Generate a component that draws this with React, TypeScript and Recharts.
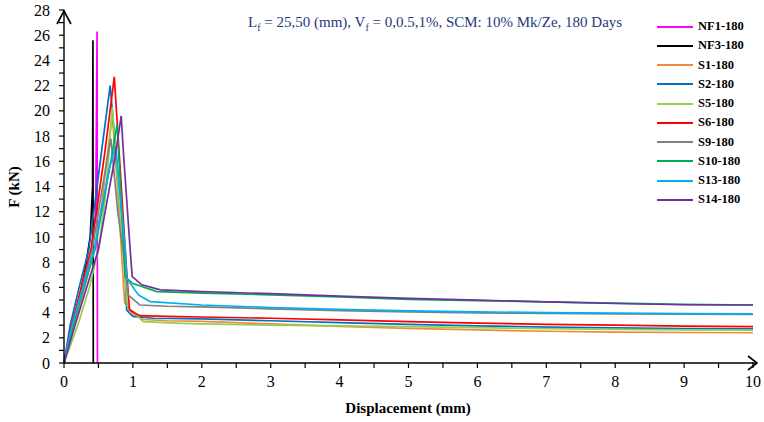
import { LineChart, Line, XAxis, YAxis } from 'recharts';

// displacement (mm) / force (kN) pairs per specimen
const nf1Disp = [0, 0.12, 0.27, 0.4, 0.46, 0.48, 0.485];
const nf1Force = [0, 3, 6, 9, 12, 26.3, 0];
const nf3Disp = [0, 0.1, 0.2, 0.3, 0.38, 0.415, 0.42, 0.425];
const nf3Force = [0, 2.2, 4.5, 7.2, 10, 14, 25.6, 0];

const s1Disp = [0, 0.15, 0.3, 0.44, 0.55, 0.63, 0.7, 0.8, 0.86, 0.88, 1.0, 1.15, 1.5, 2, 3, 4, 5, 6, 7, 8, 9, 10];
const s1Force = [0, 3, 6, 9, 12.7, 16.5, 19.8, 12, 6.5, 4.8, 3.9, 3.45, 3.35, 3.3, 3.1, 2.9, 2.75, 2.62, 2.52, 2.45, 2.42, 2.4];
const s2Disp = [0, 0.09, 0.22, 0.36, 0.45, 0.55, 0.67, 0.78, 0.88, 0.91, 1.0, 1.3, 2, 3, 4, 5, 6, 7, 8, 9, 10];
const s2Force = [0, 3, 6, 9, 12.7, 17, 22, 15, 8, 4.2, 3.7, 3.55, 3.5, 3.35, 3.2, 3.07, 2.95, 2.85, 2.78, 2.72, 2.7];
const s5Disp = [0, 0.2, 0.37, 0.5, 0.59, 0.65, 0.7, 0.8, 0.87, 0.92, 1.15, 1.7, 2, 3, 4, 5, 6, 7, 8, 9, 10];
const s5Force = [0, 3, 6, 9, 12.7, 16.5, 20.3, 13, 8, 4.5, 3.28, 3.15, 3.1, 3.0, 2.95, 2.88, 2.8, 2.72, 2.66, 2.62, 2.6];
const s6Disp = [0, 0.11, 0.25, 0.39, 0.49, 0.6, 0.73, 0.82, 0.9, 0.95, 1.1, 1.5, 2, 3, 4, 5, 6, 7, 8, 9, 10];
const s6Force = [0, 3, 6, 9, 12.7, 17, 22.7, 15, 8, 4.2, 3.75, 3.7, 3.65, 3.55, 3.42, 3.28, 3.17, 3.07, 3.0, 2.93, 2.88];
const s9Disp = [0, 0.12, 0.27, 0.41, 0.52, 0.62, 0.68, 0.78, 0.88, 0.93, 1.1, 1.5, 2, 3, 4, 5, 6, 7, 8, 9, 10];
const s9Force = [0, 3, 6, 9, 12.7, 16, 17.8, 12, 8, 5.4, 4.6, 4.5, 4.45, 4.3, 4.15, 4.05, 3.98, 3.93, 3.9, 3.87, 3.85];
const s10Disp = [0, 0.13, 0.29, 0.45, 0.57, 0.68, 0.77, 0.82, 0.87, 0.885, 1.0, 1.35, 2, 3, 4, 5, 6, 7, 8, 9, 10];
const s10Force = [0, 3, 6, 9, 12.7, 16, 18.9, 14, 9, 6.85, 6.3, 5.66, 5.55, 5.4, 5.25, 5.05, 4.95, 4.85, 4.75, 4.65, 4.6];
const s13Disp = [0, 0.12, 0.28, 0.44, 0.56, 0.66, 0.75, 0.82, 0.89, 0.91, 1.08, 1.25, 2, 3, 4, 5, 6, 7, 8, 9, 10];
const s13Force = [0, 3, 6, 9, 12.7, 15.5, 17.2, 13, 9, 6.7, 5.4, 4.87, 4.6, 4.4, 4.25, 4.13, 4.05, 4.0, 3.95, 3.92, 3.9];
const s14Disp = [0, 0.16, 0.33, 0.5, 0.62, 0.74, 0.83, 0.86, 0.96, 0.99, 1.13, 1.4, 2, 3, 4, 5, 6, 7, 8, 9, 10];
const s14Force = [0, 3, 6, 9, 12.7, 16.3, 19.6, 16.9, 9, 6.85, 6.2, 5.8, 5.66, 5.5, 5.3, 5.13, 4.98, 4.85, 4.72, 4.62, 4.6];

const seriesNames = ['NF1-180', 'NF3-180', 'S1-180', 'S2-180', 'S5-180', 'S6-180', 'S9-180', 'S10-180', 'S13-180', 'S14-180'];
const seriesColors = ['#FF00FF', '#000000', '#F28A3C', '#0070C0', '#92D050', '#FF0000', '#808080', '#00B050', '#00B0F0', '#7030A0'];
const seriesDisp = [nf1Disp, nf3Disp, s1Disp, s2Disp, s5Disp, s6Disp, s9Disp, s10Disp, s13Disp, s14Disp];
const seriesForce = [nf1Force, nf3Force, s1Force, s2Force, s5Force, s6Force, s9Force, s10Force, s13Force, s14Force];

const xTicks = Array.from({ length: 21 }, (_, i) => i * 0.5);
const yTicks = Array.from({ length: 29 }, (_, i) => i);

const FONT = '"Liberation Serif", "Times New Roman", serif';

const series = seriesNames.map((name, i) => ({
  name,
  color: seriesColors[i],
  data: seriesDisp[i].map((d, j) => ({ d, f: seriesForce[i][j] })),
}));

const YTick = (props: any) => {
  const { x, y, payload } = props;
  if (payload.value % 2 !== 0) return null;
  return (
    <text x={x - 7} y={y} dy="0.35em" textAnchor="end" style={{ fontFamily: FONT, fontSize: 16 }} fill="#000">
      {payload.value}
    </text>
  );
};

const XTick = (props: any) => {
  const { x, y, payload } = props;
  if (payload.value % 1 !== 0) return null;
  return (
    <text x={x} y={y + 17} textAnchor="middle" style={{ fontFamily: FONT, fontSize: 16 }} fill="#000">
      {payload.value}
    </text>
  );
};

export default function App() {
  return (
    <div style={{ position: 'absolute', left: 0, top: 0, width: 764, height: 422, background: '#fff' }}>
      <LineChart width={764} height={422} margin={{ top: 10, right: 11, bottom: 14, left: 24 }}>
        <XAxis
          dataKey="d"
          type="number"
          domain={[0, 10]}
          ticks={xTicks}
          interval={0}
          tick={<XTick />}
          tickSize={5}
          height={45}
          allowDuplicatedCategory={false}
          axisLine={{ stroke: '#000', strokeWidth: 1.4 }}
          tickLine={{ stroke: '#000', strokeWidth: 1.2 }}
        />
        <YAxis
          type="number"
          domain={[0, 28]}
          ticks={yTicks}
          interval={0}
          tick={<YTick />}
          tickSize={5}
          width={40}
          axisLine={{ stroke: '#000', strokeWidth: 1.4 }}
          tickLine={{ stroke: '#000', strokeWidth: 1.2 }}
        />
        {series.map((s) => (
          <Line
            key={s.name}
            data={s.data}
            dataKey="f"
            name={s.name}
            stroke={s.color}
            strokeWidth={1.7}
            dot={false}
            activeDot={false}
            isAnimationActive={false}
          />
        ))}
      </LineChart>
      <div style={{ position: 'absolute', left: 657, top: 17, fontFamily: FONT }}>
        {series.map((s) => (
          <div key={s.name} style={{ display: 'flex', alignItems: 'center', height: 19.26 }}>
            <div style={{ width: 36, height: 2, background: s.color, marginRight: 5 }} />
            <span style={{ fontSize: 12.5, fontWeight: 'bold', color: '#000' }}>{s.name}</span>
          </div>
        ))}
      </div>
      <svg width={764} height={422} style={{ position: 'absolute', left: 0, top: 0, pointerEvents: 'none' }}>
        <polyline points="57,24 64,11 71,24" fill="none" stroke="#000" strokeWidth={1.6} />
        <line x1={752} y1={363} x2={757} y2={363} stroke="#000" strokeWidth={1.4} />
        <polyline points="748,356 757,363 748,370" fill="none" stroke="#000" strokeWidth={1.6} />
        <text x={248} y={27} style={{ fontFamily: FONT, fontSize: 15 }} fill="#1F3A7A">
          L<tspan fontSize={10} dy={4}>f</tspan>
          <tspan dy={-4}> = 25,50 (mm), V</tspan>
          <tspan fontSize={10} dy={4}>f</tspan>
          <tspan dy={-4}> = 0,0.5,1%, SCM: 10% Mk/Ze, 180 Days</tspan>
        </text>
        <text x={408} y={413} textAnchor="middle" style={{ fontFamily: FONT, fontSize: 15, fontWeight: 'bold' }} fill="#000">
          Displacement (mm)
        </text>
        <text
          x={14}
          y={187}
          textAnchor="middle"
          dominantBaseline="central"
          transform="rotate(-90 14 187)"
          style={{ fontFamily: FONT, fontSize: 15, fontWeight: 'bold' }}
          fill="#000"
        >
          F (kN)
        </text>
      </svg>
    </div>
  );
}
